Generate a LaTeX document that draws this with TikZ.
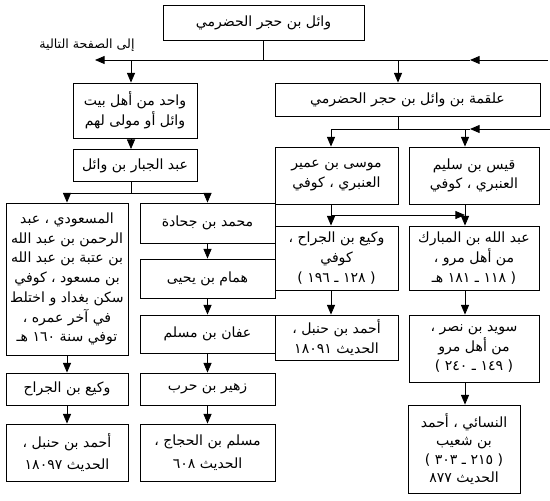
\documentclass[tikz,border=0pt]{standalone}
\usepackage{fontspec}
\newfontfamily\arabicfont[Script=Arabic]{DejaVu Sans}
\TeXXeTstate=1
\usetikzlibrary{arrows.meta}
\newcommand{\rl}[1]{\beginR #1\endR}

\begin{document}
\begin{tikzpicture}[x=0.025cm, y=-0.025cm, >={Triangle[length=2.4mm,width=2mm]}, line width=0.6pt,
  font=\arabicfont\fontsize{10}{14}\selectfont,
  bx/.style 2 args={draw, align=center, inner sep=0pt, minimum width=#1*0.025cm, minimum height=#2*0.025cm}]
\useasboundingbox (0,0) rectangle (550,500);
% top of the tree
\node[bx={201}{35}] (wail) at (263.5,22.5) {\rl{وائل بن حجر الحضرمي}};
\node[font=\arabicfont\fontsize{9}{12}\selectfont] (next) at (87,45) {\rl{إلى الصفحة التالية}};
% left branch
\node[bx={124}{55}] (ahl) at (135,110.5) {\rl{واحد من أهل بيت}\\\rl{وائل أو مولى لهم}};
\node[bx={124}{32}] (jabbar) at (135,165.5) {\rl{عبد الجبار بن وائل}};
\node[bx={122}{152}] (masudi) at (67,279) {\rl{المسعودي ، عبد}\\\rl{الرحمن بن عبد الله}\\\rl{بن عتبة بن عبد الله}\\\rl{بن مسعود ، كوفي}\\\rl{سكن بغداد و اختلط}\\\rl{في آخر عمره ،}\\\rl{توفي سنة ١٦٠ هـ}};
\node[bx={135}{40}] (juhada) at (207.5,223) {\rl{محمد بن جحادة}};
\node[bx={135}{39}] (hammam) at (207.5,278.5) {\rl{همام بن يحيى}};
\node[bx={135}{38}] (affan) at (207.5,334) {\rl{عفان بن مسلم}};
\node[bx={135}{32}] (zuhair) at (207.5,389) {\rl{زهير بن حرب}};
\node[bx={135}{57}] (muslim) at (207.5,452.5) {\rl{مسلم بن الحجاج ،}\\[2pt]\rl{الحديث ٦٠٨}};
\node[bx={122}{32}] (wakiL) at (67,389) {\rl{وكيع بن الجراح}};
\node[bx={122}{57}] (ahmadL) at (67,452.5) {\rl{أحمد بن حنبل ،}\\[2pt]\rl{الحديث ١٨٠٩٧}};
% right branch
\node[bx={265}{33}] (alqama) at (407.5,99.5) {\rl{علقمة بن وائل بن حجر الحضرمي}};
\node[bx={123}{57}] (musa) at (336.5,175.5) {\rl{موسى بن عمير}\\\rl{العنبري ، كوفي}};
\node[bx={130}{57}] (qays) at (474,175.5) {\rl{قيس بن سليم}\\\rl{العنبري ، كوفي}};
\node[bx={123}{64}] (wakiR) at (336.5,258) {\rl{وكيع بن الجراح ،}\\\rl{كوفي}\\\rl{( ١٢٨ ـ ١٩٦ )}};
\node[bx={130}{64}] (mubarak) at (474,258) {\rl{عبد الله بن المبارك}\\\rl{من أهل مرو ،}\\\rl{( ١١٨ ـ ١٨١ هـ}};
\node[bx={123}{45}] (ahmadR) at (336.5,337.5) {\rl{أحمد بن حنبل ،}\\\rl{الحديث ١٨٠٩١}};
\node[bx={130}{67}] (suwaid) at (474,348.5) {\rl{سويد بن نصر ،}\\\rl{من أهل مرو}\\\rl{( ١٤٩ ـ ٢٤٠ )}};
\node[bx={112}{88}, font=\arabicfont\fontsize{10}{13}\selectfont] (nasai) at (464,449) {\rl{النسائي ، أحمد}\\\rl{بن شعيب}\\\rl{( ٢١٥ ـ ٣٠٣ )}\\\rl{الحديث ٨٧٧}};
% junctions
\coordinate (top) at (263,60);
\coordinate (outL) at (95,60);
\coordinate (inR) at (548,60);
\coordinate (midR) at (470,60);
\coordinate (dL) at (131,60);
\coordinate (dR) at (398,60);
\coordinate (bL) at (131,193);
\coordinate (cS) at (331,129);
\coordinate (cK) at (465,129);
\coordinate (inQ) at (550,129);
\coordinate (midQ) at (470,129);
\coordinate (xS) at (331,215);
% main line
\draw (wail.south) -- (wail.south |- top);
\draw[->] (inR) -- (midR);
\draw[->] (midR) -- (outL);
\draw[->] (dL) -- (dL |- ahl.north);
\draw[->] (dR) -- (dR |- alqama.north);
% left connectors
\draw[->] (dL |- ahl.south) -- (dL |- jabbar.north);
\draw (dL |- jabbar.south) -- (bL);
\draw (masudi.north |- bL) -- (juhada.north |- bL);
\draw[->] (masudi.north |- bL) -- (masudi.north);
\draw[->] (juhada.north |- bL) -- (juhada.north);
\draw[->] (juhada) -- (hammam);
\draw[->] (hammam) -- (affan);
\draw[->] (affan) -- (zuhair);
\draw[->] (zuhair) -- (muslim);
\draw[->] (masudi) -- (wakiL);
\draw[->] (wakiL) -- (ahmadL);
% right connectors
\draw (dR |- alqama.south) -- (dR |- cS);
\draw[->] (inQ) -- (midQ);
\draw (midQ) -- (cS);
\draw[->] (cS) -- (cS |- musa.north);
\draw[->] (cK) -- (cK |- qays.north);
\draw[->] (cS |- musa.south) -- (cS |- wakiR.north);
\draw[->] (xS) -- (cK |- xS);
\draw[->] (cK |- qays.south) -- (cK |- mubarak.north);
\draw[->] (cS |- wakiR.south) -- (cS |- ahmadR.north);
\draw[->] (cK |- mubarak.south) -- (cK |- suwaid.north);
\draw[->] (cK |- suwaid.south) -- (cK |- nasai.north);
\end{tikzpicture}
\end{document}
